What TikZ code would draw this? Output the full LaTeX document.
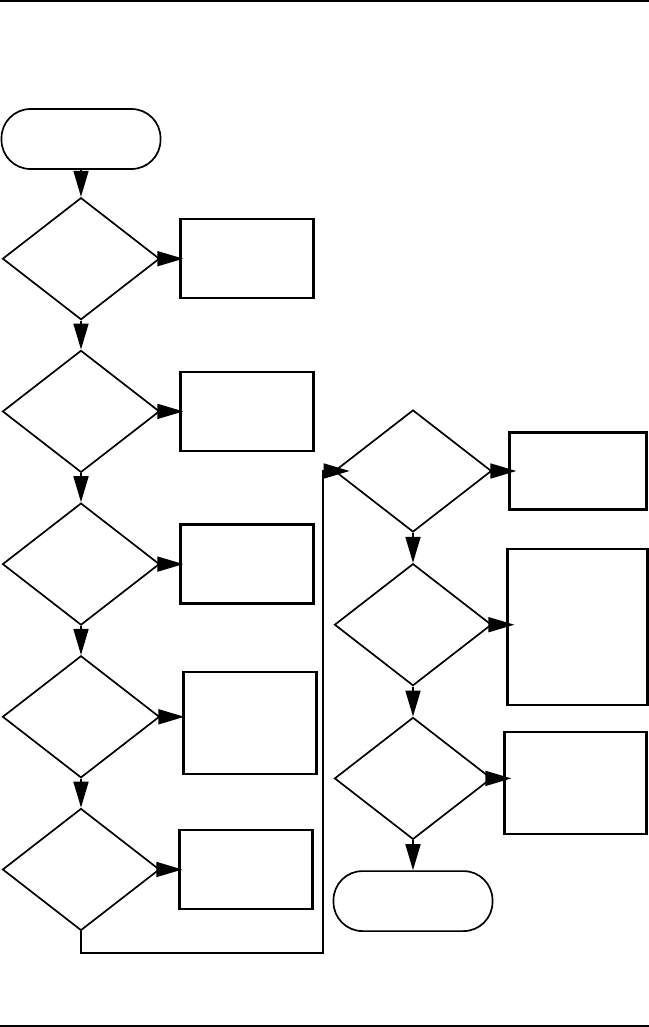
\documentclass[tikz,border=0pt]{standalone}
\usepackage{tikz}
\usetikzlibrary{positioning,shapes.geometric,arrows.meta}
\tikzstyle{decision} = [draw, diamond, line width=1.7pt, inner sep=0pt, minimum width=157bp, minimum height=122bp]
\tikzstyle{block} = [draw, rectangle, line width=2.2pt, minimum width=133bp, minimum height=79bp]
\tikzstyle{term} = [draw, rectangle, rounded corners=29bp, line width=1.7pt, minimum width=159bp, minimum height=60bp]
\tikzstyle{rule} = [line width=1.2pt]
\tikzstyle{to} = [-{Triangle[length=26bp,width=15bp]}, line width=1.7pt]

\begin{document}
\begin{tikzpicture}[x=1bp, y=1bp, node distance=29bp]
	\useasboundingbox (0,0) rectangle (649,-1027);
	\draw [rule] (0,-1) -- (649,-1);
	\draw [rule] (0,-1026) -- (649,-1026);
	% left column
	\node (start) [term] at (81,-139) {};
	\node (d1) [decision, below=27bp of start] {};
	\node (d2) [decision, below=of d1] {};
	\node (d3) [decision, below=of d2] {};
	\node (d4) [decision, below=of d3] {};
	\node (d5) [decision, below=of d4] {};
	\node (b1) [block, right=19bp of d1] {};
	\node (b2) [block, right=19bp of d2] {};
	\node (b3) [block, right=19bp of d3] {};
	\node (b4) [block, right=22bp of d4, yshift=-6bp, minimum height=102bp] {};
	\node (b5) [block, right=18bp of d5] {};
	% right column
	\node (d6) [decision] at (413,-471) {};
	\node (d7) [decision, below=30bp of d6] {};
	\node (d8) [decision, below=30bp of d7] {};
	\node (stop) [term, below=30bp of d8] {};
	\node (b6) [block, right=16bp of d6, minimum width=137bp, minimum height=77bp] {};
	\node (b7) [block, right=14bp of d7, yshift=-2bp, minimum width=140bp, minimum height=156bp] {};
	\node (b8) [block, right=11bp of d8, yshift=-5bp, minimum width=142bp, minimum height=102bp] {};
	\coordinate (turn) at (323,-953);
	\draw [to] (start.south) -- (d1.north);
	\draw [to] (d1.south) -- (d2.north);
	\draw [to] (d2.south) -- (d3.north);
	\draw [to] (d3.south) -- (d4.north);
	\draw [to] (d4.south) -- (d5.north);
	\draw [to] (d1.east) -- ([xshift=4bp]b1.west);
	\draw [to] (d2.east) -- ([xshift=4bp]b2.west);
	\draw [to] (d3.east) -- ([xshift=4bp]b3.west);
	\draw [to] (d4.east) -- ([xshift=2bp]b4.west |- d4.east);
	\draw [to] (d5.east) -- ([xshift=4bp]b5.west);
	\draw [to] (d5.south) |- (turn) |- ([xshift=16bp]d6.west);
	\draw [to] (d6.south) -- (d7.north);
	\draw [to] (d7.south) -- (d8.north);
	\draw [to] (d8.south) -- (stop.north);
	\draw [to] (d6.east) -- ([xshift=8bp]b6.west);
	\draw [to] (d7.east) -- ([xshift=8bp]b7.west |- d7.east);
	\draw [to] (d8.east) -- ([xshift=8bp]b8.west |- d8.east);
\end{tikzpicture}
\end{document}
